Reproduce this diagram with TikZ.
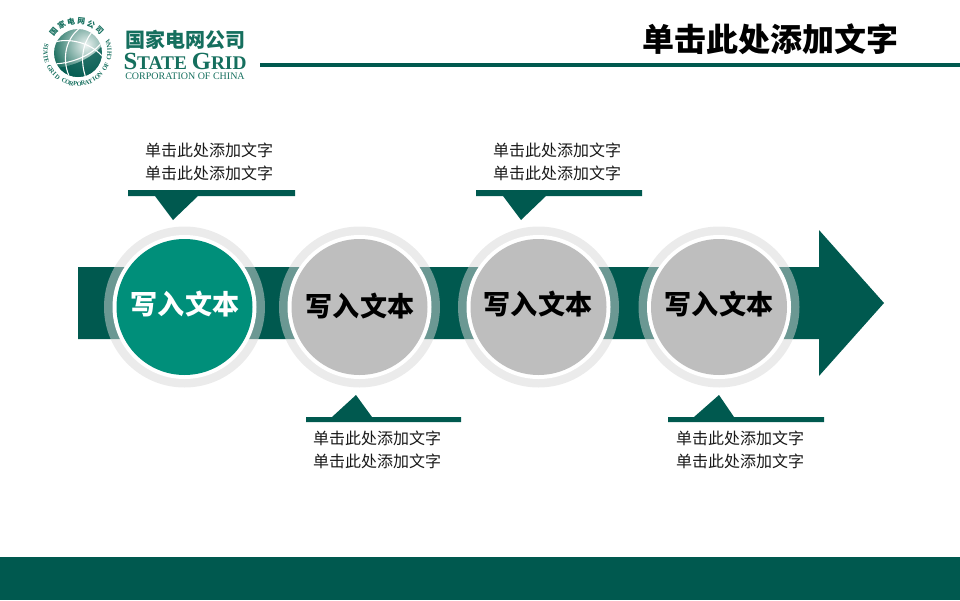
\documentclass[tikz,border=0pt]{standalone}
\usepackage{fontspec}
\setmainfont{Liberation Sans}
\newfontfamily\cjk{Noto Sans CJK SC}
\newfontfamily\lserif{Liberation Serif}
\definecolor{sgdark}{HTML}{00594F}
\definecolor{sgteal}{HTML}{008F7A}
\definecolor{sggray}{HTML}{BEBEBE}
\definecolor{sgring}{HTML}{D7D7D7}
\definecolor{sglogo}{HTML}{156F5E}
\tikzset{
  ringo/.style={circle,fill=sgring,fill opacity=.5,minimum size=120.75pt,inner sep=0,draw=none},
  ringw/.style={circle,fill=white,minimum size=108pt,inner sep=0,draw=none},
  disc/.style={circle,minimum size=102pt,inner sep=0,draw=none},
  disclabel/.style={font=\cjk\bfseries\fontsize{20.3}{24}\selectfont},
  caption/.style={font=\cjk\fontsize{12}{17.25}\selectfont,align=center,text=black!90},
  darkfill/.style={fill=sgdark,draw=none},
  globeline/.style={white,line width=.8pt}
}
\begin{document}
\begin{tikzpicture}[x=0.75pt,y=-0.75pt]
\useasboundingbox (0,0) rectangle (960,600);
% bottom band and header rule
\fill[sgdark] (0,557) rectangle (960,600);
\fill[sgdark] (260,63) rectangle (960,67);
\node[font=\cjk\bfseries\fontsize{24}{28}\selectfont,text=black] (title) at (770,39) {单击此处添加文字};
% logo globe
\begin{scope}
\clip (78,53) circle (24);
\shade[inner color=sglogo!8,outer color=sglogo!95!black,shading=radial] (86,45) circle (36);
\fill[sgdark,opacity=.8] (56,68) .. controls (75,66) and (92,58) .. (104,44) -- (104,80) -- (55,80) -- cycle;
\draw[globeline] (52,64) .. controls (70,64) and (92,56) .. (102,42);
\draw[globeline] (55,42) .. controls (68,38) and (90,42) .. (102,56);
\draw[globeline] (80,28) .. controls (64,40) and (62,62) .. (70,78);
\draw[globeline] (92,32) .. controls (82,44) and (80,62) .. (86,78);
\end{scope}
\foreach \c [count=\i from 0] in {国,家,电,网,公,司}{
  \pgfmathsetmacro\a{140-\i*19}
  \node[font=\cjk\bfseries\fontsize{5.8}{6}\selectfont,text=sglogo,rotate=\a-90,inner sep=0] (lc\i) at ({77.5+31*cos(\a)},{52-31*sin(\a)}) {\c};
}
\foreach \c [count=\i from 0] in {S,T,A,T,E,{ },G,R,I,D,{ },C,O,R,P,O,R,A,T,I,O,N,{ },O,F,{ },C,H,I,N,A}{
  \pgfmathsetmacro\a{168+\i*7}
  \node[font=\lserif\bfseries\fontsize{4.8}{5}\selectfont,text=sglogo,rotate=\a+90,inner sep=0] (lt\i) at ({77.5+32*cos(\a)},{52-32*sin(\a)}) {\c};
}
\node[font=\cjk\bfseries\fontsize{15}{18}\selectfont,text=sglogo,inner sep=0] (lcn) at (185,40) {国家电网公司};
\node[font=\lserif\bfseries\fontsize{18.5}{20}\selectfont,text=sglogo,inner sep=0] (len) at (185,61) {S\fontsize{14.5}{20}\selectfont TATE \fontsize{18.5}{20}\selectfont G\fontsize{14.5}{20}\selectfont RID};
\node[font=\lserif\fontsize{7.5}{8}\selectfont,text=sglogo,inner sep=0] (lsub) at (185,76.5) {CORPORATION OF CHINA};
% arrow
\fill[darkfill] (78,267) -- (819,267) -- (819,230) -- (884,303) -- (819,376) -- (819,339) -- (78,339) -- cycle;
% circles
\foreach \n/\cx/\col/\tx/\ty/\tcol in {a/184.5/sgteal/185/304/white,b/359.5/sggray/360/306/black,c/538.5/sggray/538/304/black,d/719/sggray/719/304/black}{
  \node[ringo] (r\n) at (\cx,307) {};
  \node[ringw] (w\n) at (\cx,307) {};
  \node[disc,fill=\col] (d\n) at (\cx,307) {};
  \node[disclabel,text=\tcol] (l\n) at (\tx,\ty) {写入文本};
}
% callouts above
\fill[darkfill] (128,190) -- (295,190) -- (295,196) -- (198,196) -- (173,220) -- (155,196) -- (128,196) -- cycle;
\fill[darkfill] (476,190) -- (642,190) -- (642,196) -- (546,196) -- (521,220) -- (503,196) -- (476,196) -- cycle;
\node[caption] (t1) at (209,161.5) {单击此处添加文字\\单击此处添加文字};
\node[caption] (t2) at (557,161.5) {单击此处添加文字\\单击此处添加文字};
% callouts below
\fill[darkfill] (306,417) -- (332,417) -- (356,395) -- (372,417) -- (461,417) -- (461,422) -- (306,422) -- cycle;
\fill[darkfill] (668,417) -- (694,417) -- (719,395) -- (734,417) -- (824,417) -- (824,422) -- (668,422) -- cycle;
\node[caption] (t3) at (377,449.5) {单击此处添加文字\\单击此处添加文字};
\node[caption] (t4) at (740,449.5) {单击此处添加文字\\单击此处添加文字};
\end{tikzpicture}
\end{document}
